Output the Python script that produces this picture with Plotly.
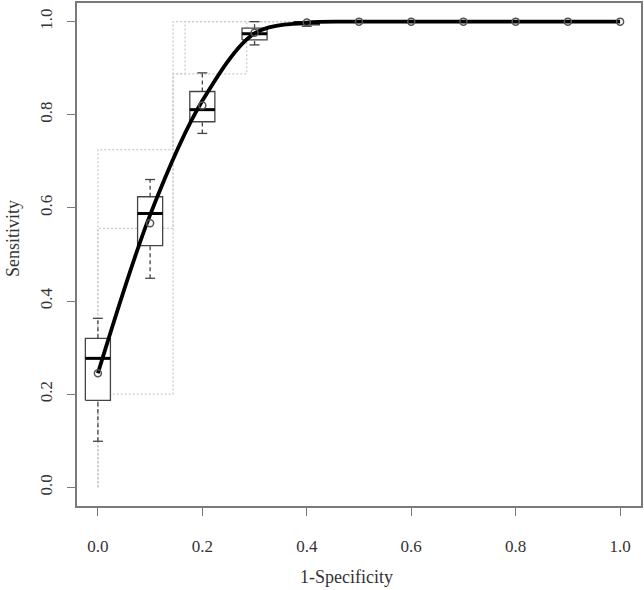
"""
ROC curve summary: per-threshold sensitivity boxplots with a smoothed mean curve.
"""

import plotly.graph_objects as go

# x positions (1-specificity) where the mean sensitivity is reported
fpr = [0.0, 0.1, 0.2, 0.3, 0.4, 0.5, 0.6, 0.7, 0.8, 0.9, 1.0]
mean_sens = [0.245, 0.567, 0.820, 0.976, 0.998, 1.0, 1.0, 1.0, 1.0, 1.0, 1.0]
smooth_sens = [0.245, 0.585, 0.830, 0.975, 0.998, 1.0, 1.0, 1.0, 1.0, 1.0, 1.0]

# boxplot summaries of sensitivity at each threshold
box_x = [0.0, 0.1, 0.2, 0.3, 0.4]
box_low = [0.099, 0.449, 0.760, 0.950, 0.990]
box_q1 = [0.187, 0.519, 0.785, 0.961, 0.993]
box_med = [0.277, 0.588, 0.811, 0.974, 0.997]
box_q3 = [0.320, 0.624, 0.850, 0.986, 1.0]
box_high = [0.363, 0.661, 0.890, 1.0, 1.0]

# individual empirical ROC step curves (grey dotted)
roc_hi_x = [0.0, 0.0, 0.144, 0.144, 1.0]
roc_hi_y = [0.0, 0.725, 0.725, 1.0, 1.0]
roc_mid_x = [0.0, 0.0, 0.144, 0.144, 0.167, 0.167, 1.0]
roc_mid_y = [0.0, 0.556, 0.556, 0.888, 0.888, 1.0, 1.0]
roc_lo_x = [0.0, 0.0, 0.144, 0.144, 0.285, 0.285, 1.0]
roc_lo_y = [0.0, 0.2, 0.2, 0.888, 0.888, 1.0, 1.0]

tick_vals = [0.0, 0.2, 0.4, 0.6, 0.8, 1.0]

# style constants
BOX_HALF = 0.024
CAP_HALF = 0.0095
FONT = "Liberation Serif"
AXIS_GREY = "#7a7a7a"
TEXT = "#333333"

fig = go.Figure()

# Dotted ROC step curves
for xs, ys in [(roc_hi_x, roc_hi_y), (roc_mid_x, roc_mid_y), (roc_lo_x, roc_lo_y)]:
    fig.add_trace(
        go.Scatter(
            x=xs, y=ys, mode="lines",
            line=dict(color="#cccccc", width=1.3, dash="2px,2px"),
            hoverinfo="skip",
        )
    )

# Whiskers (dashed) and caps
wx, wy, cx, cy = [], [], [], []
for x, lo, q1, q3, hi in zip(box_x, box_low, box_q1, box_q3, box_high):
    wx += [x, x, None, x, x, None]
    wy += [lo, q1, None, q3, hi, None]
    cx += [x - CAP_HALF, x + CAP_HALF, None, x - CAP_HALF, x + CAP_HALF, None]
    cy += [lo, lo, None, hi, hi, None]

fig.add_trace(
    go.Scatter(x=wx, y=wy, mode="lines",
               line=dict(color="#444444", width=1.3, dash="4px,3px"), hoverinfo="skip")
)
fig.add_trace(
    go.Scatter(x=cx, y=cy, mode="lines",
               line=dict(color="#444444", width=1.3), hoverinfo="skip")
)

# Boxes (white filled) and medians
bx, by, mx, my = [], [], [], []
for x, q1, med, q3 in zip(box_x, box_q1, box_med, box_q3):
    bx += [x - BOX_HALF, x + BOX_HALF, x + BOX_HALF, x - BOX_HALF, x - BOX_HALF, None]
    by += [q1, q1, q3, q3, q1, None]
    mx += [x - BOX_HALF, x + BOX_HALF, None]
    my += [med, med, None]

fig.add_trace(
    go.Scatter(x=bx, y=by, mode="lines", fill="toself", fillcolor="white",
               line=dict(color="#444444", width=1.3), hoverinfo="skip")
)
fig.add_trace(
    go.Scatter(x=mx, y=my, mode="lines",
               line=dict(color="black", width=3), hoverinfo="skip")
)

# Smoothed mean ROC curve
fig.add_trace(
    go.Scatter(x=fpr, y=smooth_sens, mode="lines",
               line=dict(color="black", width=3.8, shape="spline", smoothing=0.9))
)

# Mean points
fig.add_trace(
    go.Scatter(x=fpr, y=mean_sens, mode="markers",
               marker=dict(symbol="circle-open", size=7, color="#555555",
                           line=dict(width=1.5, color="#555555")))
)

axis_common = dict(
    range=[-0.04, 1.04],
    tickvals=tick_vals,
    tickformat=".1f",
    ticks="outside",
    ticklen=8,
    tickwidth=1.3,
    tickcolor=AXIS_GREY,
    showgrid=False,
    zeroline=False,
    showline=True,
    mirror=True,
    linecolor=AXIS_GREY,
    linewidth=1.5,
    automargin=False,
    tickfont=dict(family=FONT, size=17, color=TEXT),
)

fig.update_layout(
    width=644,
    height=590,
    margin=dict(l=77, r=3, t=3, b=84),
    plot_bgcolor="white",
    paper_bgcolor="white",
    showlegend=False,
    xaxis=dict(**axis_common, ticklabelstandoff=16),
    yaxis=dict(**axis_common, tickangle=-90, ticklabelstandoff=8),
)

# Axis titles (placed as in the original, slightly off the plot centre)
fig.add_annotation(
    text="1-Specificity", xref="paper", yref="paper", x=0.477, y=-0.141,
    xanchor="center", yanchor="middle", showarrow=False,
    font=dict(family=FONT, size=18, color=TEXT),
)
fig.add_annotation(
    text="Sensitivity", xref="paper", yref="paper", x=-0.1135, y=0.533,
    xanchor="center", yanchor="middle", textangle=-90, showarrow=False,
    font=dict(family=FONT, size=18, color=TEXT),
)

# drop the default page margin so the figure sits at the window origin
fig.write_html(
    "out.html",
    config={"displayModeBar": False},
    post_script="document.body.style.margin='0';",
)
